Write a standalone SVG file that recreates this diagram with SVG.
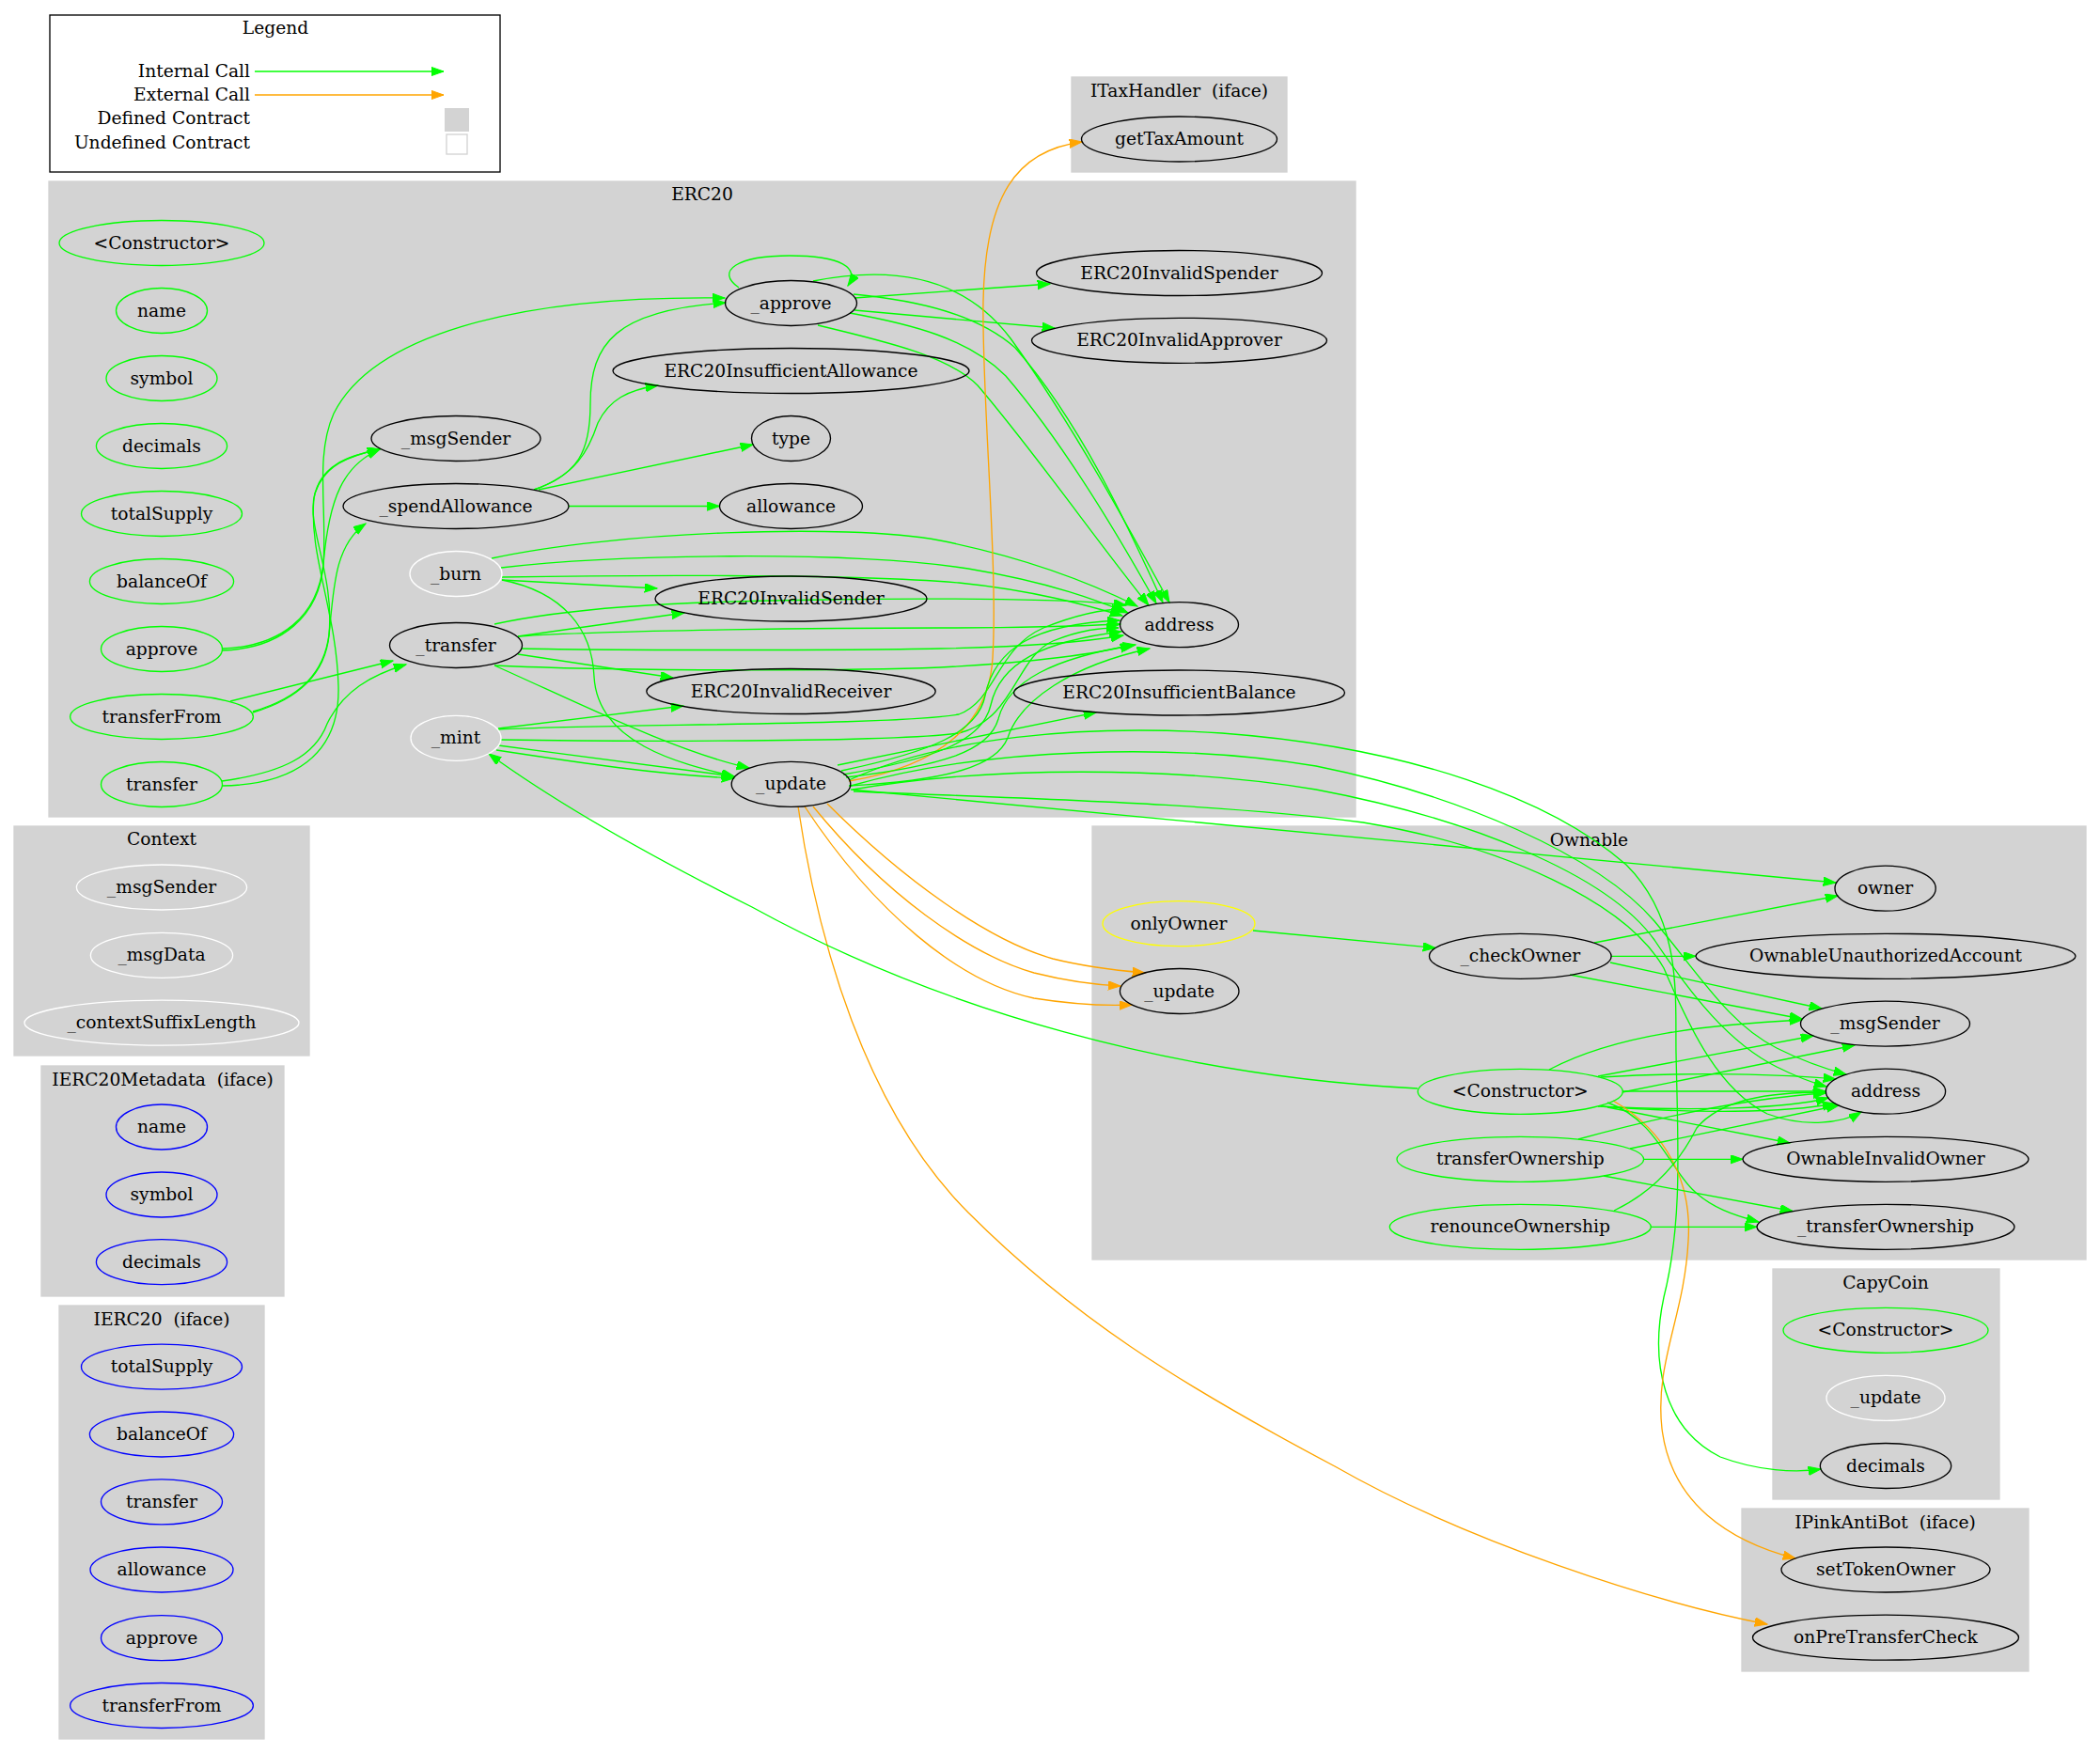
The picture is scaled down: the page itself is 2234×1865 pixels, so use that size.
<svg xmlns="http://www.w3.org/2000/svg" width="2234" height="1865" viewBox="0 0 2234 1865">
<style>
.cl{fill:#d3d3d3;stroke:#d3d3d3;stroke-width:1.33}
ellipse{fill:none;stroke-width:1.33}
.g ellipse{stroke:#00ff00}
.k ellipse{stroke:#000000}
.w ellipse{stroke:#ffffff}
.b ellipse{stroke:#0000ff}
.y ellipse{stroke:#ffff00}
text{font-family:"DejaVu Serif",serif;font-size:18.67px;text-anchor:middle;fill:#000;white-space:pre}
.e path{fill:none;stroke-width:1.33}
.e .eg{stroke:#00ff00;marker-end:url(#ag)}
.e .eo{stroke:#ffa500;marker-end:url(#ao)}
</style>
<defs>
<marker id="ag" markerUnits="userSpaceOnUse" markerWidth="15" markerHeight="11" refX="13.3" refY="4.7" orient="auto"><path d="M0,0 L13.3,4.7 L0,9.4 Z" fill="#00ff00" stroke="#00ff00" stroke-width="1"/></marker>
<marker id="ao" markerUnits="userSpaceOnUse" markerWidth="15" markerHeight="11" refX="13.3" refY="4.7" orient="auto"><path d="M0,0 L13.3,4.7 L0,9.4 Z" fill="#ffa500" stroke="#ffa500" stroke-width="1"/></marker>
</defs>
<rect width="2234" height="1865" fill="#ffffff"/>

<g id="legend">
<rect x="53" y="16" width="479" height="167" fill="none" stroke="#000" stroke-width="1.33"/>
<text x="293" y="36">Legend</text>
<text x="266" y="82" style="text-anchor:end">Internal Call</text>
<text x="266" y="107" style="text-anchor:end">External Call</text>
<text x="266" y="132" style="text-anchor:end">Defined Contract</text>
<text x="266" y="158" style="text-anchor:end">Undefined Contract</text>
<path d="M271,76 L472,76" stroke="#00ff00" stroke-width="1.33" marker-end="url(#ag)"/>
<path d="M271,101 L472,101" stroke="#ffa500" stroke-width="1.33" marker-end="url(#ao)"/>
<rect x="473" y="115" width="26" height="25" fill="#d3d3d3"/>
<rect x="475" y="143" width="22" height="21" fill="#fff" stroke="#d3d3d3" stroke-width="1.33"/>
</g>

<g id="clusters">
<rect class="cl" x="52" y="193" width="1390" height="676"/>
<text x="747" y="213">ERC20</text>
<rect class="cl" x="1140" y="82" width="229" height="101"/>
<text x="1254.5" y="103">ITaxHandler  (iface)</text>
<rect class="cl" x="15" y="879" width="314" height="244"/>
<text x="172" y="899">Context</text>
<rect class="cl" x="44" y="1134" width="258" height="245"/>
<text x="173" y="1155">IERC20Metadata  (iface)</text>
<rect class="cl" x="63" y="1389" width="218" height="461"/>
<text x="172" y="1410">IERC20  (iface)</text>
<rect class="cl" x="1162" y="879" width="1057" height="461"/>
<text x="1690.5" y="900">Ownable</text>
<rect class="cl" x="1886" y="1350" width="241" height="245"/>
<text x="2006" y="1371">CapyCoin</text>
<rect class="cl" x="1853" y="1605" width="305" height="173"/>
<text x="2005.5" y="1626">IPinkAntiBot  (iface)</text>
</g>

<g id="edges" class="e">
<!-- ERC20 left column -->
<path class="eg" d="M236,690 C300,688 338,655 344,600 C350,530 365,495 404,478"/>
<path class="eg" d="M236,692 C300,690 340,655 344,600 C348,540 335,485 355,440 C395,360 540,314 771,317"/>
<path class="eg" d="M269,757 C320,742 345,715 350,675 C356,610 325,560 335,525 C345,495 370,485 404,478"/>
<path class="eg" d="M269,758 C320,743 346,716 350,676 C355,625 356,580 389,557"/>
<path class="eg" d="M245,746 L418,703"/>
<path class="eg" d="M236,831 C300,822 335,805 348,770 C365,735 395,718 432,707"/>
<path class="eg" d="M236,836 C310,835 362,805 360,730 C358,650 328,590 334,530 C340,495 370,485 404,478"/>
<!-- _spendAllowance -->
<path class="eg" d="M568,521 C615,505 628,480 628,430 C628,365 655,330 772,322"/>
<path class="eg" d="M568,521 C612,506 626,480 636,450 C648,425 668,415 700,410"/>
<path class="eg" d="M573,521 L801,473"/>
<path class="eg" d="M605,538.5 L765.5,538.5"/>
<!-- _approve -->
<path class="eg" d="M786,306 C760,288 785,272 840,272 C895,272 915,285 902,304"/>
<path class="eg" d="M909,317 L1117,302"/>
<path class="eg" d="M909,330 L1122,349"/>
<path class="eg" d="M865,299 C960,280 1030,300 1075,360 C1140,450 1200,560 1244,641"/>
<path class="eg" d="M908,313 C980,320 1040,335 1080,370 C1150,450 1200,560 1237,641"/>
<path class="eg" d="M904,333 C970,345 1030,360 1070,400 C1130,470 1190,570 1230,642"/>
<path class="eg" d="M870,346 C950,365 1010,380 1040,410 C1100,480 1170,580 1222,644"/>
<!-- _burn -->
<path class="eg" d="M523,594 C650,566 900,556 1000,575 C1100,595 1170,625 1210,645"/>
<path class="eg" d="M533,604 C650,590 900,585 1030,605 C1120,620 1170,640 1200,652"/>
<path class="eg" d="M534,614 C650,612 900,610 1020,620 C1100,628 1160,645 1194,655"/>
<path class="eg" d="M534,617 L699,626"/>
<path class="eg" d="M534,617 C600,630 630,670 632,720 C636,790 720,812 781,826"/>
<!-- _transfer -->
<path class="eg" d="M551,677 L728,652"/>
<path class="eg" d="M526,664 C600,648 700,640 880,638 C1000,636 1150,637 1198,644"/>
<path class="eg" d="M551,677 C650,670 900,668 1000,668 C1100,668 1150,666 1192,664"/>
<path class="eg" d="M555,690 C650,692 900,692 1000,690 C1100,688 1160,682 1195,676"/>
<path class="eg" d="M551,696 L716,721"/>
<path class="eg" d="M526,708 C650,714 900,714 1000,710 C1100,705 1170,695 1205,686"/>
<path class="eg" d="M526,708 C620,750 720,800 797,817"/>
<!-- _mint -->
<path class="eg" d="M530,775 L727,751"/>
<path class="eg" d="M530,776 C650,770 950,772 1020,760 C1060,745 1060,690 1110,668 C1150,652 1180,648 1196,648"/>
<path class="eg" d="M533,787 C650,789 950,790 1020,780 C1080,765 1080,700 1120,682 C1150,670 1170,668 1190,668"/>
<path class="eg" d="M530,793 C620,805 720,818 781,826"/>
<path class="eg" d="M528,798 C620,812 700,824 781,828"/>
<!-- _update (ERC20) -->
<path class="eo" d="M903,831 C1000,815 1052,770 1056,700 C1062,600 1044,420 1046,320 C1048,210 1080,160 1151,151"/>
<path class="eg" d="M891,814 L1166,758"/>
<path class="eg" d="M895,820 C990,800 1040,780 1048,740 C1058,690 1100,664 1191,660"/>
<path class="eg" d="M897,824 C990,808 1045,790 1054,750 C1064,705 1110,682 1193,672"/>
<path class="eg" d="M900,827 C1000,815 1052,800 1062,765 C1072,725 1120,700 1208,686"/>
<path class="eg" d="M903,836 C1010,830 1060,815 1072,785 C1085,745 1140,708 1223,690"/>
<path class="eo" d="M880,855 C960,935 1050,1000 1120,1020 C1160,1030 1195,1033 1218,1035"/>
<path class="eo" d="M865,858 C940,950 1030,1015 1100,1035 C1140,1045 1170,1048 1192,1049"/>
<path class="eo" d="M856,858 C930,970 1020,1045 1100,1062 C1150,1070 1180,1070 1204,1069"/>
<path class="eo" d="M849,858 C870,1000 920,1180 1030,1290 C1140,1400 1250,1470 1420,1560 C1560,1640 1760,1705 1880,1728"/>
<path class="eg" d="M905,840 L1953,939"/>
<path class="eg" d="M903,830 C1000,785 1150,770 1300,780 C1500,795 1650,850 1730,920 C1790,980 1782,1060 1783,1120 C1785,1220 1790,1300 1770,1380 C1755,1450 1770,1520 1830,1550 C1870,1565 1910,1567 1937,1563"/>
<path class="eg" d="M905,836 C1050,795 1250,790 1400,815 C1550,845 1700,910 1760,980 C1810,1040 1840,1090 1890,1115 C1920,1130 1945,1138 1964,1143"/>
<path class="eg" d="M907,840 C1050,815 1250,815 1400,840 C1560,870 1710,930 1760,1000 C1800,1060 1840,1110 1890,1135 C1910,1145 1925,1151 1943,1156"/>
<path class="eg" d="M908,842 C1100,850 1300,855 1450,875 C1600,900 1730,960 1770,1030 C1800,1100 1830,1160 1880,1185 C1920,1200 1960,1195 1980,1183"/>
<!-- Ownable -->
<path class="eg" d="M1333,990 L1527,1008.5"/>
<path class="eg" d="M1696,1003 L1955,953"/>
<path class="eg" d="M1714,1017.3 L1804,1017.3"/>
<path class="eg" d="M1713,1024 L1938,1073"/>
<path class="eg" d="M1670,1037 L1917,1084"/>
<path class="eg" d="M1648,1138 C1720,1100 1820,1090 1917,1085"/>
<path class="eg" d="M1700,1145 L1929,1102"/>
<path class="eg" d="M1726,1162 L1973,1112"/>
<path class="eg" d="M1703,1146 C1800,1140 1900,1143 1953,1148"/>
<path class="eg" d="M1726,1161 L1942,1161"/>
<path class="eg" d="M1700,1177 C1800,1182 1900,1180 1945,1168"/>
<path class="eg" d="M1703,1177 C1800,1185 1900,1184 1952,1174"/>
<path class="eg" d="M1710,1178 L1904,1216"/>
<path class="eg" d="M1710,1173 C1760,1190 1775,1240 1800,1265 C1820,1285 1845,1293 1871,1300"/>
<path class="eo" d="M1716,1171 C1775,1205 1800,1260 1796,1320 C1792,1400 1760,1450 1768,1520 C1778,1600 1840,1640 1910,1658"/>
<path class="eg" d="M1679,1212 C1760,1190 1860,1168 1942,1163"/>
<path class="eg" d="M1734,1222 L1956,1176"/>
<path class="eg" d="M1749,1233.3 L1854,1233.3"/>
<path class="eg" d="M1706,1251 L1907,1288.5"/>
<path class="eg" d="M1756,1305.3 L1869,1305.3"/>
<path class="eg" d="M1717,1288 C1765,1265 1790,1230 1805,1200 C1830,1170 1880,1162 1942,1162"/>
<path class="eg" d="M1508,1158 C1250,1145 1000,1075 800,965 C700,915 600,860 520,802"/>
</g>

<g id="erc20_ctor" class="g"><ellipse cx="172" cy="258.5" rx="109" ry="24"/><text x="172" y="264.5">&lt;Constructor&gt;</text></g>
<g id="erc20_name" class="g"><ellipse cx="172" cy="330.5" rx="48.5" ry="24"/><text x="172" y="336.5">name</text></g>
<g id="erc20_symbol" class="g"><ellipse cx="172" cy="402.5" rx="59" ry="24"/><text x="172" y="408.5">symbol</text></g>
<g id="erc20_decimals" class="g"><ellipse cx="172" cy="474.5" rx="69.6" ry="24"/><text x="172" y="480.5">decimals</text></g>
<g id="erc20_totalSupply" class="g"><ellipse cx="172" cy="546.5" rx="85.5" ry="24"/><text x="172" y="552.5">totalSupply</text></g>
<g id="erc20_balanceOf" class="g"><ellipse cx="172" cy="618.5" rx="76.6" ry="24"/><text x="172" y="624.5">balanceOf</text></g>
<g id="erc20_approve" class="g"><ellipse cx="172" cy="690.5" rx="64.5" ry="24"/><text x="172" y="696.5">approve</text></g>
<g id="erc20_transferFrom" class="g"><ellipse cx="172" cy="762.5" rx="97.4" ry="24"/><text x="172" y="768.5">transferFrom</text></g>
<g id="erc20_transfer" class="g"><ellipse cx="172" cy="834.5" rx="64.5" ry="24"/><text x="172" y="840.5">transfer</text></g>
<g id="erc20_msgSender" class="k"><ellipse cx="485" cy="466.5" rx="90" ry="24"/><text x="485" y="472.5">_msgSender</text></g>
<g id="erc20_spendAllowance" class="k"><ellipse cx="485" cy="538.5" rx="120" ry="24"/><text x="485" y="544.5">_spendAllowance</text></g>
<g id="erc20_burn" class="w"><ellipse cx="485" cy="610.5" rx="49" ry="24"/><text x="485" y="616.5">_burn</text></g>
<g id="erc20_transfer_int" class="k"><ellipse cx="485" cy="686.5" rx="70.5" ry="24"/><text x="485" y="692.5">_transfer</text></g>
<g id="erc20_mint" class="w"><ellipse cx="485" cy="785.3" rx="48" ry="24"/><text x="485" y="791.3">_mint</text></g>
<g id="erc20_approve_int" class="k"><ellipse cx="841.5" cy="322.5" rx="70" ry="24"/><text x="841.5" y="328.5">_approve</text></g>
<g id="erc20_insAllowance" class="k"><ellipse cx="841.5" cy="394.5" rx="189.5" ry="24"/><text x="841.5" y="400.5">ERC20InsufficientAllowance</text></g>
<g id="erc20_type" class="k"><ellipse cx="841.5" cy="466.5" rx="42" ry="24"/><text x="841.5" y="472.5">type</text></g>
<g id="erc20_allowance" class="k"><ellipse cx="841.5" cy="538.5" rx="76" ry="24"/><text x="841.5" y="544.5">allowance</text></g>
<g id="erc20_invSender" class="k"><ellipse cx="841.5" cy="637" rx="144.5" ry="24"/><text x="841.5" y="643">ERC20InvalidSender</text></g>
<g id="erc20_invReceiver" class="k"><ellipse cx="841.5" cy="735.5" rx="153.7" ry="24"/><text x="841.5" y="741.5">ERC20InvalidReceiver</text></g>
<g id="erc20_update" class="k"><ellipse cx="841.5" cy="834.3" rx="63.3" ry="24"/><text x="841.5" y="840.3">_update</text></g>
<g id="erc20_invSpender" class="k"><ellipse cx="1254.5" cy="290.5" rx="152" ry="24"/><text x="1254.5" y="296.5">ERC20InvalidSpender</text></g>
<g id="erc20_invApprover" class="k"><ellipse cx="1254.5" cy="362.3" rx="157" ry="24"/><text x="1254.5" y="368.3">ERC20InvalidApprover</text></g>
<g id="erc20_address" class="k"><ellipse cx="1254.5" cy="664.6" rx="63" ry="24"/><text x="1254.5" y="670.6">address</text></g>
<g id="erc20_insBalance" class="k"><ellipse cx="1254.5" cy="737" rx="176" ry="24"/><text x="1254.5" y="743">ERC20InsufficientBalance</text></g>

<g id="itax_getTaxAmount" class="k"><ellipse cx="1254.5" cy="148" rx="104" ry="24"/><text x="1254.5" y="154">getTaxAmount</text></g>

<g id="ctx_msgSender" class="w"><ellipse cx="172" cy="944" rx="90.6" ry="24"/><text x="172" y="950">_msgSender</text></g>
<g id="ctx_msgData" class="w"><ellipse cx="172" cy="1016.4" rx="75.6" ry="24"/><text x="172" y="1022.4">_msgData</text></g>
<g id="ctx_suffix" class="w"><ellipse cx="172" cy="1088.2" rx="146" ry="24"/><text x="172" y="1094.2">_contextSuffixLength</text></g>

<g id="meta_name" class="b"><ellipse cx="172" cy="1199" rx="48.5" ry="24"/><text x="172" y="1205">name</text></g>
<g id="meta_symbol" class="b"><ellipse cx="172" cy="1271" rx="59" ry="24"/><text x="172" y="1277">symbol</text></g>
<g id="meta_decimals" class="b"><ellipse cx="172" cy="1342.7" rx="69.6" ry="24"/><text x="172" y="1348.7">decimals</text></g>

<g id="ierc20_totalSupply" class="b"><ellipse cx="172" cy="1454.2" rx="85.5" ry="24"/><text x="172" y="1460.2">totalSupply</text></g>
<g id="ierc20_balanceOf" class="b"><ellipse cx="172" cy="1526" rx="76.6" ry="24"/><text x="172" y="1532">balanceOf</text></g>
<g id="ierc20_transfer" class="b"><ellipse cx="172" cy="1597.8" rx="64.5" ry="24"/><text x="172" y="1603.8">transfer</text></g>
<g id="ierc20_allowance" class="b"><ellipse cx="172" cy="1670" rx="76" ry="24"/><text x="172" y="1676">allowance</text></g>
<g id="ierc20_approve" class="b"><ellipse cx="172" cy="1742.7" rx="64.5" ry="24"/><text x="172" y="1748.7">approve</text></g>
<g id="ierc20_transferFrom" class="b"><ellipse cx="172" cy="1814.5" rx="97.4" ry="24"/><text x="172" y="1820.5">transferFrom</text></g>

<g id="own_owner" class="k"><ellipse cx="2005.6" cy="945.2" rx="53.6" ry="24"/><text x="2005.6" y="951.2">owner</text></g>
<g id="own_onlyOwner" class="y"><ellipse cx="1254" cy="982.7" rx="81" ry="24"/><text x="1254" y="988.7">onlyOwner</text></g>
<g id="own_checkOwner" class="k"><ellipse cx="1617.3" cy="1017.3" rx="96.8" ry="24"/><text x="1617.3" y="1023.3">_checkOwner</text></g>
<g id="own_unauth" class="k"><ellipse cx="2006" cy="1017.3" rx="202" ry="24"/><text x="2006" y="1023.3">OwnableUnauthorizedAccount</text></g>
<g id="own_update" class="k"><ellipse cx="1254.7" cy="1054.5" rx="63.3" ry="24"/><text x="1254.7" y="1060.5">_update</text></g>
<g id="own_msgSender" class="k"><ellipse cx="2005.5" cy="1089.2" rx="90" ry="24"/><text x="2005.5" y="1095.2">_msgSender</text></g>
<g id="own_ctor" class="g"><ellipse cx="1617.3" cy="1161.3" rx="109" ry="24"/><text x="1617.3" y="1167.3">&lt;Constructor&gt;</text></g>
<g id="own_address" class="k"><ellipse cx="2006" cy="1161.2" rx="63.6" ry="24"/><text x="2006" y="1167.2">address</text></g>
<g id="own_transferOwnership" class="g"><ellipse cx="1617.3" cy="1233.3" rx="131.3" ry="24"/><text x="1617.3" y="1239.3">transferOwnership</text></g>
<g id="own_invalidOwner" class="k"><ellipse cx="2006" cy="1233.3" rx="152" ry="24"/><text x="2006" y="1239.3">OwnableInvalidOwner</text></g>
<g id="own_renounce" class="g"><ellipse cx="1617.3" cy="1305.3" rx="139" ry="24"/><text x="1617.3" y="1311.3">renounceOwnership</text></g>
<g id="own_transferOwnership_int" class="k"><ellipse cx="2006" cy="1305.3" rx="137" ry="24"/><text x="2006" y="1311.3">_transferOwnership</text></g>

<g id="capy_ctor" class="g"><ellipse cx="2006" cy="1415.3" rx="109" ry="24"/><text x="2006" y="1421.3">&lt;Constructor&gt;</text></g>
<g id="capy_update" class="w"><ellipse cx="2006" cy="1487.4" rx="63" ry="24"/><text x="2006" y="1493.4">_update</text></g>
<g id="capy_decimals" class="k"><ellipse cx="2006" cy="1559.5" rx="69.7" ry="24"/><text x="2006" y="1565.5">decimals</text></g>

<g id="pink_setTokenOwner" class="k"><ellipse cx="2006" cy="1670" rx="111" ry="24"/><text x="2006" y="1676">setTokenOwner</text></g>
<g id="pink_onPreTransferCheck" class="k"><ellipse cx="2006" cy="1742.2" rx="141.5" ry="24"/><text x="2006" y="1748.2">onPreTransferCheck</text></g>
</svg>
